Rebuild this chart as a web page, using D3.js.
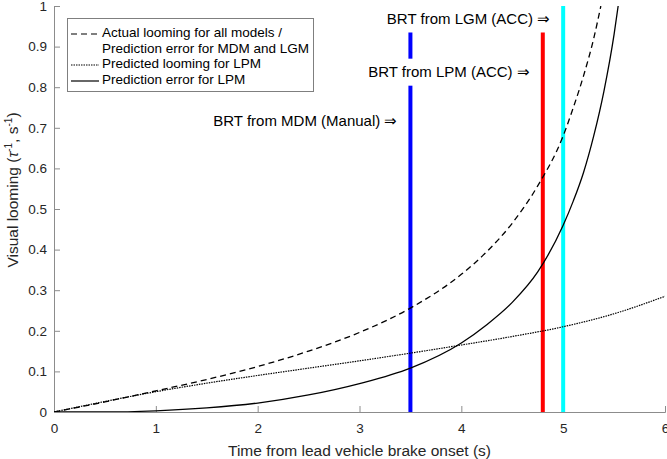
<!DOCTYPE html>
<html>
<head>
<meta charset="utf-8">
<script src="https://cdn.jsdelivr.net/npm/d3@7"></script>
<style>
  body { margin: 0; background: #fff; }
  text { font-family: "Liberation Sans", Arial, sans-serif; }
</style>
</head>
<body>
<div id="chart"></div>
<script>
// Actual looming (all models) / prediction error for MDM and LGM
var tActual    = [0, 0.5, 1, 1.5, 2, 2.5, 3, 3.5, 4, 4.25, 4.5, 4.75, 5, 5.1, 5.2, 5.3, 5.37];
var loomActual = [0, 0.025, 0.052, 0.08, 0.112, 0.15, 0.196, 0.256, 0.339, 0.395, 0.465, 0.557, 0.68, 0.75, 0.828, 0.92, 1.0];

// Predicted looming for LPM
var tPred    = [0, 0.5, 1, 1.5, 2, 2.5, 3, 3.5, 4, 4.5, 5, 5.5, 6];
var loomPred = [0, 0.026, 0.05, 0.071, 0.09, 0.108, 0.126, 0.145, 0.165, 0.186, 0.21, 0.242, 0.285];

// Prediction error for LPM
var tErr   = [0, 0.5, 1, 1.5, 2, 2.5, 3, 3.5, 4, 4.25, 4.5, 4.75, 5, 5.1, 5.2, 5.3, 5.4, 5.5, 5.54];
var errLPM = [0, 0.0, 0.003, 0.01, 0.022, 0.042, 0.07, 0.108, 0.17, 0.215, 0.27, 0.345, 0.46, 0.52, 0.59, 0.68, 0.79, 0.93, 1.0];

// Brake reaction times
var brtTimes  = [3.5, 4.8, 5.0];
var brtColors = ["#0000ff", "#ff0000", "#00ffff"];
var brtLabels = ["BRT from MDM (Manual) \u21D2", "BRT from LPM (ACC) \u21D2", "BRT from LGM (ACC) \u21D2"];
var brtLabelY = [0.717, 0.837, 0.968];

var xTicks = [0, 1, 2, 3, 4, 5, 6];
var yTicks = [0, 0.1, 0.2, 0.3, 0.4, 0.5, 0.6, 0.7, 0.8, 0.9, 1];

var legendLabels = [
    ["Actual looming for all models /", "Prediction error for MDM and LGM"],
    ["Predicted looming for LPM"],
    ["Prediction error for LPM"]
];

function LoomChart(id){

    d3.select(id).select("svg").remove();

    var W = 667, H = 459;
    var left = 54, right = 665, top = 6, bottom = 412;

    var svg = d3.select(id)
                .append("svg")
                .attr("width", W)
                .attr("height", H);

    var x = d3.scaleLinear().domain([0, 6]).range([left, right]);
    var y = d3.scaleLinear().domain([0, 1]).range([bottom, top]);

    svg.append("defs").append("clipPath").attr("id", "plotclip")
        .append("rect")
        .attr("x", left).attr("y", top)
        .attr("width", right - left).attr("height", bottom - top);

    // Axes (MATLAB style: inward ticks, no box)
    var axisColor = "#8c8c8c";
    var gx = svg.append("g")
        .attr("transform", "translate(0," + bottom + ")")
        .call(d3.axisBottom(x).tickValues(xTicks).tickSize(-6).tickPadding(11).tickFormat(d3.format("d")));
    var gy = svg.append("g")
        .attr("transform", "translate(" + left + ",0)")
        .call(d3.axisLeft(y).tickValues(yTicks).tickSize(-6).tickPadding(7).tickFormat(function(d){ return d === 0 || d === 1 ? d : d3.format(".1f")(d); }));
    [gx, gy].forEach(function(g){
        g.select(".domain").attr("stroke", axisColor);
        g.selectAll(".tick line").attr("stroke", axisColor);
        g.selectAll("text")
            .style("font-family", '"Liberation Sans", Arial, sans-serif')
            .style("font-size", "13.5px")
            .attr("fill", "#262626");
    });

    // Axis titles
    svg.append("text")
        .attr("x", (left + right) / 2)
        .attr("y", 456)
        .attr("text-anchor", "middle")
        .style("font-size", "15.5px")
        .attr("fill", "#262626")
        .text("Time from lead vehicle brake onset (s)");

    var yl = svg.append("text")
        .attr("transform", "translate(18,190)rotate(-90)")
        .attr("text-anchor", "middle")
        .style("font-size", "15.5px")
        .attr("fill", "#262626");
    yl.append("tspan").text("Visual looming (");
    yl.append("tspan").style("font-style", "italic").text("\u03C4");
    yl.append("tspan").attr("dy", -6).style("font-size", "10px").text("-1");
    yl.append("tspan").attr("dy", 6).text(", s");
    yl.append("tspan").attr("dy", -6).style("font-size", "10px").text("-1");
    yl.append("tspan").attr("dy", 6).text(")");

    var plot = svg.append("g").attr("clip-path", "url(#plotclip)");

    // BRT vertical lines
    plot.selectAll("line.brt")
        .data(brtTimes)
        .enter()
        .append("line")
        .attr("class", "brt")
        .attr("x1", function(d){ return x(d); })
        .attr("x2", function(d){ return x(d); })
        .attr("y1", y(0))
        .attr("y2", y(1))
        .attr("stroke", function(d, i){ return brtColors[i]; })
        .attr("stroke-width", 4);

    // Curves
    var line = d3.line()
        .x(function(d){ return x(d[0]); })
        .y(function(d){ return y(d[1]); })
        .curve(d3.curveMonotoneX);

    plot.append("path")
        .datum(d3.zip(tActual, loomActual))
        .attr("d", line)
        .attr("fill", "none")
        .attr("stroke", "#000")
        .attr("stroke-width", 1.3)
        .attr("stroke-dasharray", "6,4");

    plot.append("path")
        .datum(d3.zip(tPred, loomPred))
        .attr("d", line)
        .attr("fill", "none")
        .attr("stroke", "#000")
        .attr("stroke-width", 1.2)
        .attr("stroke-dasharray", "1.5,1");

    plot.append("path")
        .datum(d3.zip(tErr, errLPM))
        .attr("d", line)
        .attr("fill", "none")
        .attr("stroke", "#000")
        .attr("stroke-width", 1.3);

    // BRT labels with white background
    brtTimes.forEach(function(t, i){
        var g = svg.append("g");
        var txt = g.append("text")
            .attr("x", x(t) - 13)
            .attr("y", y(brtLabelY[i]))
            .attr("dy", "0.35em")
            .attr("text-anchor", "end")
            .style("font-size", "15px")
            .attr("fill", "#000")
            .text(brtLabels[i]);
        var bb = txt.node().getBBox();
        g.insert("rect", "text")
            .attr("x", bb.x - 3)
            .attr("y", y(brtLabelY[i]) - 13.5)
            .attr("width", bb.width + 6)
            .attr("height", 27)
            .attr("fill", "#fff");
    });

    // Legend
    var lg = svg.append("g");
    lg.append("rect")
        .attr("x", 67.5).attr("y", 18.5)
        .attr("width", 246).attr("height", 73)
        .attr("fill", "#fff")
        .attr("stroke", "#7f7f7f");

    var legendStyles = ["6,4", "1.5,1", null];
    var rowY = [32, 63, 79];
    legendLabels.forEach(function(lines, i){
        var s = lg.append("line")
            .attr("x1", 71).attr("x2", 99)
            .attr("y1", rowY[i] + 2).attr("y2", rowY[i] + 2)
            .attr("stroke", "#000")
            .attr("stroke-width", 1.2);
        if (legendStyles[i]) s.attr("stroke-dasharray", legendStyles[i]);
        lines.forEach(function(l, j){
            lg.append("text")
                .attr("x", 102)
                .attr("y", rowY[i] + j * 16)
                .attr("dy", "0.35em")
                .style("font-size", "13.5px")
                .attr("fill", "#000")
                .text(l);
        });
    });
}

LoomChart("#chart");
</script>
</body>
</html>
